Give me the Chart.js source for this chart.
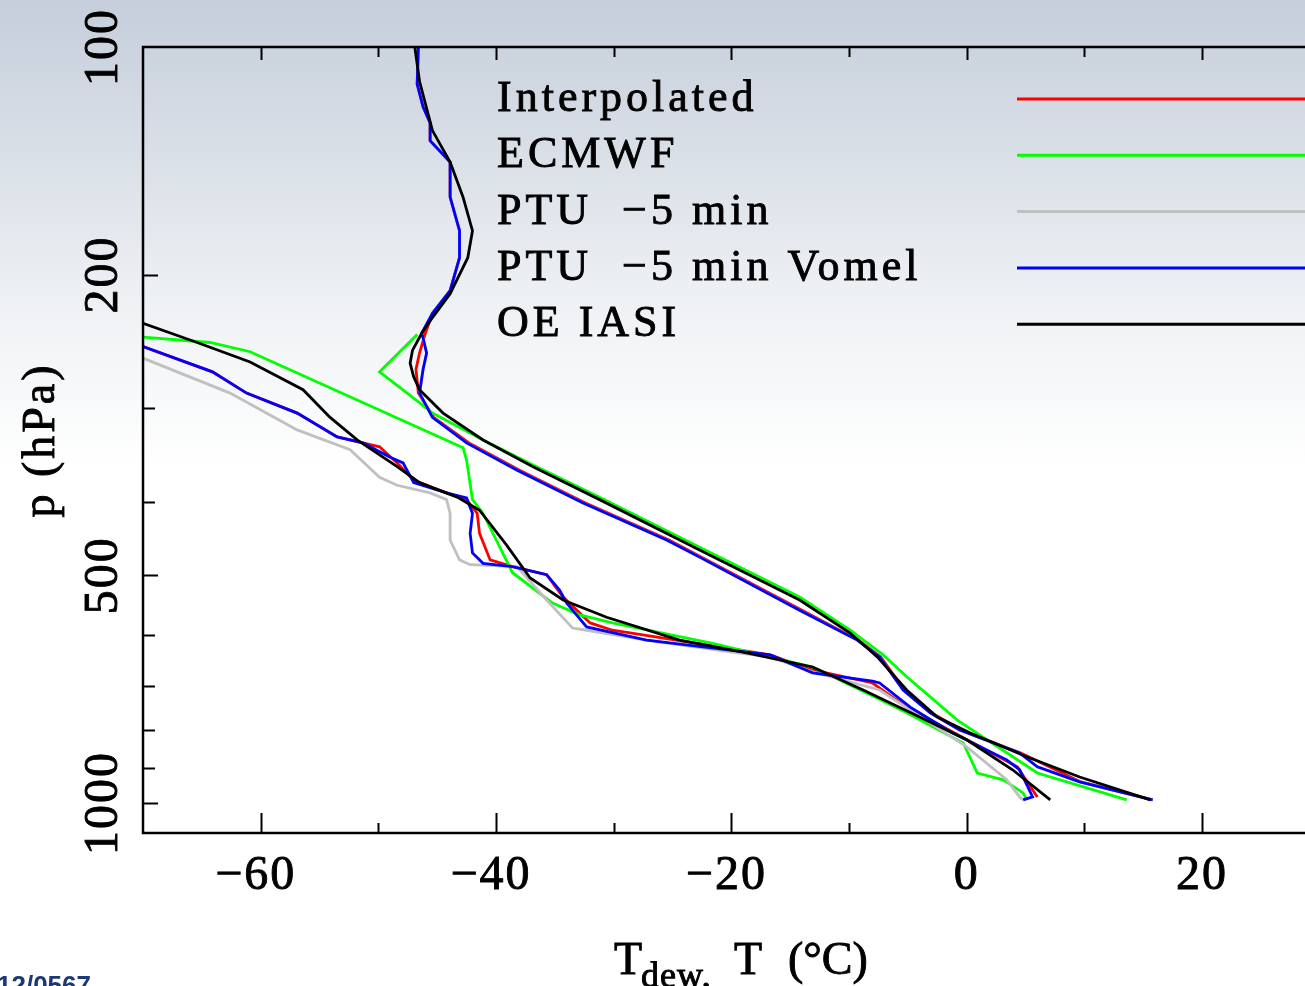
<!DOCTYPE html>
<html>
<head>
<meta charset="utf-8">
<script src="https://cdn.jsdelivr.net/npm/chart.js@4.4.1/dist/chart.umd.min.js"></script>
<style>
html, body { margin: 0; padding: 0; background: #fff; }
#wrap {
    width: 1305px; height: 986px; position: relative; overflow: hidden;
    background: linear-gradient(to bottom, #c5cedb 0px, #d9dfe7 150px, #eef1f4 300px, #ffffff 470px);
}
canvas { display: block; }
</style>
</head>
<body>
<div id="wrap"><canvas id="profiliChart" width="1305" height="986"></canvas></div>
<script>
// ── Dati (p in hPa, T in °C) ─────────────────────────────────
// Interpolated
const pInterpT  = [100, 112, 120, 126, 133, 142, 158, 175, 190, 210, 225, 239, 254, 267, 287, 309, 334, 363, 401, 449, 556, 609, 641, 709, 760, 801, 859, 938, 991];
const tInterpT  = [-46.6, -46.7, -46.2, -45.6, -45.6, -43.9, -43.9, -43.1, -43.1, -43.9, -45.4, -46.0, -46.5, -46.8, -46.6, -45.3, -42.3, -38.0, -32.4, -25.3, -14.0, -9.2, -7.3, -5.3, -3.0, -0.5, 4.6, 9.7, 15.8];
const pInterpTd = [249, 269, 287, 305, 328, 338, 355, 374, 389, 397, 414, 440, 477, 487, 499, 534, 578, 591, 637, 667, 694, 747, 896, 982];
const tInterpTd = [-70.0, -64.1, -61.2, -56.9, -53.5, -49.9, -48.4, -47.0, -44.2, -42.5, -41.6, -41.4, -40.5, -38.6, -35.7, -34.3, -32.0, -30.1, -16.7, -13.1, -8.0, -5.1, 4.3, 6.0];

// ECMWF
const pEcmwfT  = [240, 269, 289, 305, 331, 357, 394, 459, 534, 591, 637, 681, 724, 777, 913, 991];
const tEcmwfT  = [-46.7, -49.9, -47.3, -45.4, -41.1, -36.9, -31.2, -22.7, -14.2, -9.9, -7.1, -5.1, -3.1, -0.8, 6.0, 13.6];
const pEcmwfTd = [242, 246, 253, 339, 352, 397, 414, 496, 544, 564, 578, 615, 661, 724, 760, 833, 885, 913, 932, 970, 991];
const tEcmwfTd = [-70.0, -64.3, -60.9, -42.8, -42.5, -42.0, -41.1, -38.6, -35.2, -32.9, -30.1, -21.6, -13.1, -7.8, -5.1, -0.3, 0.5, 0.9, 3.1, 4.8, 5.1];

// PTU -5 min (la correzione Vomel tocca solo l'umidita: T uguale)
const pPtuTd = [258, 287, 321, 341, 371, 380, 389, 397, 414, 449, 477, 484, 487, 539, 587, 591, 609, 631, 641, 671, 709, 843, 932, 982, 991];
const tPtuTd = [-70.0, -62.6, -56.9, -52.4, -49.9, -48.4, -45.6, -44.2, -43.9, -43.9, -43.1, -42.2, -38.2, -35.7, -33.5, -32.3, -27.2, -20.1, -16.7, -13.1, -7.4, 0.0, 3.4, 4.5, 4.8];

// PTU -5 min Vomel
const pVomelT  = [100, 112, 120, 126, 133, 142, 158, 175, 190, 210, 225, 239, 254, 267, 287, 309, 334, 363, 401, 449, 473, 556, 609, 641, 709, 760, 801, 859, 896, 938, 991];
const tVomelT  = [-46.6, -46.7, -46.2, -45.6, -45.6, -43.9, -43.9, -43.1, -43.1, -43.9, -45.4, -46.3, -45.9, -46.2, -46.5, -45.4, -42.5, -38.2, -32.6, -25.5, -22.7, -14.2, -9.3, -7.4, -5.4, -3.1, -0.6, 4.5, 6.0, 9.6, 15.8];
const pVomelTd = [249, 269, 287, 305, 328, 334, 349, 355, 377, 389, 395, 414, 440, 467, 482, 487, 499, 523, 544, 585, 609, 628, 637, 673, 690, 694, 747, 808, 877, 904, 982, 991];
const tVomelTd = [-70.0, -64.1, -61.2, -56.9, -53.5, -51.3, -49.0, -47.9, -47.0, -44.2, -42.5, -42.0, -42.2, -42.0, -41.1, -38.6, -35.7, -34.6, -34.0, -32.3, -27.2, -20.1, -16.7, -13.1, -8.0, -7.4, -4.8, -1.2, 3.4, 4.5, 5.6, 4.8];

// OE IASI
const pIasiT  = [100, 111, 129, 142, 158, 175, 190, 212, 228, 239, 252, 262, 273, 284, 305, 331, 359, 397, 463, 539, 596, 641, 709, 770, 808, 869, 924, 991];
const tIasiT  = [-46.9, -46.5, -45.4, -43.9, -42.8, -42.0, -42.4, -43.9, -45.4, -46.3, -47.1, -47.3, -47.0, -46.5, -44.5, -41.1, -36.9, -31.2, -22.7, -14.2, -9.9, -7.6, -5.1, -2.5, 0.3, 5.1, 9.6, 15.6];
const pIasiTd = [232, 246, 261, 284, 309, 331, 359, 377, 394, 410, 456, 504, 539, 568, 609, 633, 661, 709, 770, 825, 904, 991];
const tIasiTd = [-70.0, -65.4, -60.9, -56.4, -54.1, -51.8, -48.4, -46.5, -43.3, -41.4, -39.1, -37.1, -34.3, -30.6, -24.4, -18.7, -13.1, -8.8, -4.0, 0.0, 3.9, 7.1];

const nomiSerie   = ['Interpolated', 'ECMWF', 'PTU  \u22125 min', 'PTU  \u22125 min Vomel', 'OE IASI'];
const coloriSerie = ['#ff0000', '#00ff00', '#c0c0c0', '#0000ff', '#000000'];

// assi
const tickT      = [-60, -50, -40, -30, -20, -10, 0, 10, 20];
const etichetteT = [-60, -40, -20, 0, 20];
const tickP      = [200, 300, 400, 500, 600, 700, 800, 900, 1000];
const etichetteP = [100, 200, 500, 1000];

// ── Costruzione dataset ──────────────────────────────────────
function punti(pArr, tArr) {
    return pArr.map((p, i) => ({ x: tArr[i], y: p }));
}

const curve = [
    [punti(pInterpT, tInterpT), punti(pInterpTd, tInterpTd)],
    [punti(pEcmwfT, tEcmwfT),   punti(pEcmwfTd, tEcmwfTd)],
    [punti(pVomelT, tVomelT),   punti(pPtuTd, tPtuTd)],
    [punti(pVomelT, tVomelT),   punti(pVomelTd, tVomelTd)],
    [punti(pIasiT, tIasiT),     punti(pIasiTd, tIasiTd)]
];

const datasets = [];
curve.forEach((coppia, i) => {
    coppia.forEach((dati, k) => {
        datasets.push({
            label: nomiSerie[i] + (k === 0 ? ' T' : ' Tdew'),
            data: dati,
            showLine: true,
            borderColor: coloriSerie[i],
            backgroundColor: coloriSerie[i],
            borderWidth: 2.8,
            pointRadius: 0,
            tension: 0,
            order: 4 - i
        });
    });
});

const fontSerif = '"Liberation Serif", "Times New Roman", serif';
const minus = v => (v < 0 ? '\u2212' + Math.abs(v) : String(v));

// testo un po' piu' marcato, come nell'originale
function scrivi(ctx, testo, x, y) {
    ctx.fillText(testo, x, y);
    ctx.strokeText(testo, x, y);
}

// ── Assi, etichette e legenda disegnati a mano ───────────────
const assiPlugin = {
    id: 'assi',
    afterDatasetsDraw(chart) {
        const { ctx, chartArea: a, scales: { x, y } } = chart;
        ctx.save();
        ctx.strokeStyle = '#000';
        ctx.fillStyle = '#000';

        // cornice (il lato destro e' fuori dall'immagine)
        ctx.lineWidth = 2.5;
        ctx.beginPath();
        ctx.moveTo(a.right, a.top);
        ctx.lineTo(a.left, a.top);
        ctx.lineTo(a.left, a.bottom);
        ctx.lineTo(a.right, a.bottom);
        ctx.stroke();

        // tacche asse T (sotto verso l'alto, sopra verso il basso)
        ctx.lineWidth = 2;
        tickT.forEach(v => {
            const px = Math.round(x.getPixelForValue(v)) + 0.5;
            const major = etichetteT.includes(v);
            ctx.beginPath();
            ctx.moveTo(px, a.bottom);
            ctx.lineTo(px, a.bottom - (major ? 20 : 10));
            ctx.moveTo(px, a.top);
            ctx.lineTo(px, a.top + (major ? 13 : 10));
            ctx.stroke();
        });

        // tacche asse p
        tickP.forEach(v => {
            const py = Math.round(y.getPixelForValue(v)) + 0.5;
            ctx.beginPath();
            ctx.moveTo(a.left, py);
            ctx.lineTo(a.left + (etichetteP.includes(v) ? 15 : 12), py);
            ctx.stroke();
        });

        ctx.lineWidth = 0.9;

        // etichette T
        ctx.font = '48px ' + fontSerif;
        ctx.textAlign = 'center';
        ctx.textBaseline = 'alphabetic';
        ctx.letterSpacing = '2px';
        etichetteT.forEach(v => {
            const px = x.getPixelForValue(v);
            scrivi(ctx, minus(v), px - (v < 0 ? 5 : 0), 889);
        });

        // etichette p, ruotate
        etichetteP.forEach(v => {
            const py = y.getPixelForValue(v);
            ctx.save();
            ctx.translate(117, py);
            ctx.rotate(-Math.PI / 2);
            ctx.textAlign = 'center';
            scrivi(ctx, String(v), 0, 0);
            ctx.restore();
        });

        // titolo asse p
        ctx.save();
        ctx.translate(54, 440);
        ctx.rotate(-Math.PI / 2);
        ctx.textAlign = 'center';
        ctx.font = '46px ' + fontSerif;
        ctx.letterSpacing = '3px';
        scrivi(ctx, 'p (hPa)', 0, 0);
        ctx.restore();

        // titolo asse T
        ctx.textAlign = 'left';
        ctx.letterSpacing = '0px';
        ctx.font = '46px ' + fontSerif;
        scrivi(ctx, 'T', 614, 974);
        ctx.font = '36px ' + fontSerif;
        ctx.letterSpacing = '1px';
        scrivi(ctx, 'dew,', 641, 987);
        ctx.font = '46px ' + fontSerif;
        ctx.letterSpacing = '0px';
        scrivi(ctx, 'T', 734, 974);
        scrivi(ctx, '(\u00b0C)', 788, 974);

        // legenda
        ctx.font = '44px ' + fontSerif;
        ctx.letterSpacing = '4px';
        nomiSerie.forEach((nome, i) => {
            const base = 111 + i * 56.3;
            ctx.fillStyle = '#000';
            ctx.strokeStyle = '#000';
            ctx.lineWidth = 0.9;
            scrivi(ctx, nome, 497, base);
            ctx.strokeStyle = coloriSerie[i];
            ctx.lineWidth = 3;
            ctx.beginPath();
            ctx.moveTo(1017, base - 12);
            ctx.lineTo(a.right, base - 12);
            ctx.stroke();
        });
        ctx.letterSpacing = '0px';

        // riferimento in basso a sinistra
        ctx.fillStyle = '#1b3a75';
        ctx.font = 'bold 26px "Liberation Sans", Arial, sans-serif';
        ctx.fillText('12/0567', -3, 994);
        ctx.restore();
    }
};

const ctx = document.getElementById('profiliChart').getContext('2d');
const profiliChart = new Chart(ctx, {
    type: 'scatter',
    data: { datasets: datasets },
    options: {
        responsive: false,
        animation: false,
        devicePixelRatio: 1,
        layout: { padding: { left: 143, top: 47, right: 0, bottom: 153 } },
        plugins: {
            legend: { display: false },
            tooltip: { enabled: false }
        },
        scales: {
            x: { type: 'linear', min: -70, max: 28.75, display: false },
            y: { type: 'logarithmic', min: 100, max: 1096, reverse: true, display: false }
        }
    },
    plugins: [assiPlugin]
});
</script>
</body>
</html>
